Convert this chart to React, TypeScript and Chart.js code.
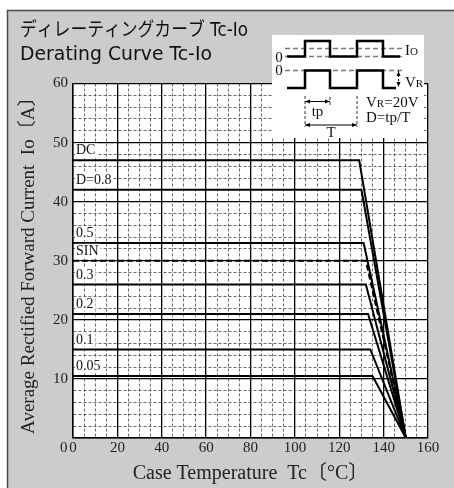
import React, { useEffect, useRef } from 'react';
import { Chart, registerables } from 'chart.js';

Chart.register(...registerables);

// ---- data ----
const curveNames = ['DC', 'D=0.8', '0.5', 'SIN', '0.3', '0.2', '0.1', '0.05'];
const flatCurrent = [47, 42, 33, 30, 26, 21, 15, 10.5];
const kneeTemp = [129, 130, 131, 132, 132, 133, 134, 135];
const zeroTemp = [150, 150, 150, 150, 150, 150, 150, 150];
const dashedCurve = [false, false, false, true, false, false, false, false];

const xTickLabels = [0, 20, 40, 60, 80, 100, 120, 140, 160];
const yTickLabels = [10, 20, 30, 40, 50, 60];

const titleLines = ['ディレーティングカーブ Tc-Io', 'Derating Curve Tc-Io'];
const xTitle = 'Case Temperature  Tc〔°C〕';
const yTitle = 'Average Rectified Forward Current  Io〔A〕';

const SERIF = '"Liberation Serif", "DejaVu Serif", "Noto Sans CJK JP", serif';
const SANS = '"DejaVu Sans", "Noto Sans CJK JP", sans-serif';

function line(ctx: CanvasRenderingContext2D, x1: number, y1: number, x2: number, y2: number) {
  ctx.beginPath();
  ctx.moveTo(x1, y1);
  ctx.lineTo(x2, y2);
  ctx.stroke();
}

function poly(ctx: CanvasRenderingContext2D, pts: number[][]) {
  ctx.beginPath();
  pts.forEach((p, i) => (i === 0 ? ctx.moveTo(p[0], p[1]) : ctx.lineTo(p[0], p[1])));
  ctx.stroke();
}

function arrowH(ctx: CanvasRenderingContext2D, x1: number, x2: number, y: number) {
  line(ctx, x1, y, x2, y);
  ctx.beginPath();
  ctx.moveTo(x1, y); ctx.lineTo(x1 + 5, y - 2); ctx.lineTo(x1 + 5, y + 2); ctx.closePath();
  ctx.moveTo(x2, y); ctx.lineTo(x2 - 5, y - 2); ctx.lineTo(x2 - 5, y + 2); ctx.closePath();
  ctx.fill();
}

function arrowV(ctx: CanvasRenderingContext2D, x: number, y1: number, y2: number) {
  ctx.save();
  ctx.setLineDash([2, 2]);
  line(ctx, x, y1, x, y2);
  ctx.restore();
  ctx.beginPath();
  ctx.moveTo(x, y1); ctx.lineTo(x - 2, y1 + 5); ctx.lineTo(x + 2, y1 + 5); ctx.closePath();
  ctx.moveTo(x, y2); ctx.lineTo(x - 2, y2 - 5); ctx.lineTo(x + 2, y2 - 5); ctx.closePath();
  ctx.fill();
}

function subText(ctx: CanvasRenderingContext2D, x: number, y: number, main: string, sub: string, rest: string) {
  ctx.textAlign = 'left';
  ctx.textBaseline = 'alphabetic';
  ctx.font = `15px ${SERIF}`;
  ctx.fillText(main, x, y);
  let cx = x + ctx.measureText(main).width;
  ctx.font = `11px ${SERIF}`;
  ctx.fillText(sub, cx, y);
  cx += ctx.measureText(sub).width;
  if (rest) {
    ctx.font = `15px ${SERIF}`;
    ctx.fillText(rest, cx, y);
  }
}

function drawInset(ctx: CanvasRenderingContext2D) {
  ctx.save();
  ctx.fillStyle = '#ffffff';
  ctx.fillRect(272, 35, 152, 103);

  ctx.strokeStyle = '#7a7a7a';
  ctx.lineWidth = 1.3;
  ctx.setLineDash([5, 3]);
  line(ctx, 285, 48.5, 402, 48.5);
  line(ctx, 285, 56.5, 402, 56.5);
  line(ctx, 285, 70.5, 402, 70.5);

  ctx.strokeStyle = '#333';
  ctx.lineWidth = 1;
  ctx.setLineDash([3, 2]);
  line(ctx, 305, 96, 305, 127);
  line(ctx, 357, 96, 357, 127);
  line(ctx, 330, 97, 330, 105);
  ctx.setLineDash([]);

  ctx.strokeStyle = '#000';
  ctx.lineWidth = 2.5;
  ctx.lineJoin = 'miter';
  poly(ctx, [[287, 56.5], [305, 56.5], [305, 41], [330, 41], [330, 56.5], [357, 56.5], [357, 41], [383, 41], [383, 56.5], [400, 56.5]]);
  poly(ctx, [[287, 88], [305, 88], [305, 70.5], [330, 70.5], [330, 88], [357, 88], [357, 70.5], [383, 70.5], [383, 88], [396, 88]]);

  ctx.lineWidth = 1;
  ctx.fillStyle = '#000';
  ctx.strokeStyle = '#000';
  arrowH(ctx, 305, 330, 101.5);
  arrowH(ctx, 305, 357, 125);
  arrowV(ctx, 398.5, 71, 87);

  ctx.fillStyle = '#111';
  ctx.font = `15px ${SERIF}`;
  ctx.textAlign = 'center';
  ctx.textBaseline = 'middle';
  ctx.fillText('0', 279, 58.5);
  ctx.fillText('0', 279, 71);
  ctx.fillText('tp', 317.5, 112);
  ctx.fillText('T', 331, 133.5);

  subText(ctx, 405, 55, 'I', 'O', '');
  subText(ctx, 405, 86.5, 'V', 'R', '');
  subText(ctx, 366, 107, 'V', 'R', '=20V');
  ctx.font = `15px ${SERIF}`;
  ctx.textAlign = 'left';
  ctx.fillText('D=tp/T', 366, 122);
  ctx.restore();
}

const decorPlugin = {
  id: 'decor',
  beforeDraw(chart: any) {
    const { ctx, width, height, chartArea: a } = chart;
    ctx.save();
    ctx.fillStyle = '#ffffff';
    ctx.fillRect(0, 0, width, height);
    ctx.fillStyle = '#cccccc';
    ctx.fillRect(7, 10, width - 7, height - 10);
    ctx.strokeStyle = '#4a4a4a';
    ctx.lineWidth = 1.5;
    ctx.beginPath();
    ctx.moveTo(7.5, height);
    ctx.lineTo(7.5, 10.5);
    ctx.lineTo(width, 10.5);
    ctx.stroke();
    ctx.fillStyle = '#ffffff';
    ctx.fillRect(a.left, a.top, a.right - a.left, a.bottom - a.top);

    ctx.fillStyle = '#111';
    ctx.font = `19px ${SANS}`;
    ctx.textAlign = 'left';
    ctx.textBaseline = 'alphabetic';
    ctx.fillText(titleLines[0], 20, 35.5, 228);
    ctx.fillText(titleLines[1], 20, 59.5, 192);
    ctx.restore();
  },
  afterDatasetsDraw(chart: any) {
    const { ctx, scales } = chart;
    const xs = scales.x;
    const ys = scales.y;
    ctx.save();
    ctx.font = `14px ${SERIF}`;
    ctx.textAlign = 'left';
    ctx.textBaseline = 'middle';
    curveNames.forEach((name, i) => {
      const x = xs.getPixelForValue(0) + 3;
      const y = ys.getPixelForValue(flatCurrent[i]) - 10;
      const w = ctx.measureText(name).width;
      ctx.fillStyle = '#ffffff';
      ctx.fillRect(x - 1, y - 7, w + 3, 14);
      ctx.fillStyle = '#111';
      ctx.fillText(name, x, y + 0.5);
    });
    ctx.restore();
    drawInset(ctx);
  },
  afterDraw(chart: any) {
    const { ctx, chartArea: a } = chart;
    ctx.save();
    ctx.fillStyle = '#222';
    ctx.font = `15px ${SERIF}`;
    ctx.textAlign = 'right';
    ctx.textBaseline = 'middle';
    ctx.fillText('0', a.left - 5.5, a.bottom + 10);
    ctx.restore();
  },
};

export default function App() {
  const ref = useRef<HTMLCanvasElement>(null);
  useEffect(() => {
    const datasets = curveNames.map((name, i) => ({
      label: name,
      data: [
        { x: 0, y: flatCurrent[i] },
        { x: kneeTemp[i], y: flatCurrent[i] },
        { x: zeroTemp[i], y: 0 },
      ],
      borderColor: '#000',
      borderWidth: 2,
      borderDash: dashedCurve[i] ? [6, 3] : [],
      pointRadius: 0,
      fill: false,
      tension: 0,
    }));

    const chart = new Chart(ref.current as HTMLCanvasElement, {
      type: 'line',
      data: { datasets },
      plugins: [decorPlugin],
      options: {
        responsive: false,
        animation: false,
        layout: { padding: { top: 83.5, right: 26, left: 0, bottom: 0 } },
        plugins: { legend: { display: false }, tooltip: { enabled: false }, title: { display: false } },
        scales: {
          x: {
            type: 'linear',
            min: 0,
            max: 160,
            afterFit: (s: any) => { s.height = 50; },
            ticks: {
              stepSize: 5,
              autoSkip: false,
              maxRotation: 0,
              padding: 1,
              color: '#222',
              font: { family: SERIF, size: 15 },
              callback: (v: any) => (xTickLabels.includes(Number(v)) ? String(v) : ''),
            },
            grid: {
              drawTicks: false,
              color: (c: any) => (c.tick && c.tick.value % 20 === 0 ? '#000' : '#444'),
              lineWidth: (c: any) => (c.tick && c.tick.value % 20 === 0 ? 1.3 : 0.8),
            },
            border: {
              display: true,
              color: '#000',
              width: 1.5,
              dash: (c: any) => (c.tick && c.tick.value % 20 !== 0 ? [3, 2] : []),
            },
            title: {
              display: true,
              text: xTitle,
              color: '#222',
              font: { family: SERIF, size: 20 },
              padding: { top: 0, bottom: 2 },
            },
          },
          y: {
            type: 'linear',
            min: 0,
            max: 60,
            afterFit: (s: any) => { s.width = 73; },
            ticks: {
              stepSize: 2,
              autoSkip: false,
              padding: 5,
              color: '#222',
              font: { family: SERIF, size: 15 },
              callback: (v: any) => (yTickLabels.includes(Number(v)) ? String(v) : ''),
            },
            grid: {
              drawTicks: false,
              color: (c: any) => (c.tick && c.tick.value % 10 === 0 ? '#000' : '#444'),
              lineWidth: (c: any) => (c.tick && c.tick.value % 10 === 0 ? 1.3 : 0.8),
            },
            border: {
              display: true,
              color: '#000',
              width: 1.5,
              dash: (c: any) => (c.tick && c.tick.value % 10 !== 0 ? [3, 2] : []),
            },
            title: {
              display: true,
              text: yTitle,
              color: '#222',
              font: { family: SERIF, size: 19 },
              padding: { top: 18, bottom: 0 },
            },
          },
        },
      },
    } as any);
    return () => chart.destroy();
  }, []);

  return (
    <div style={{ position: 'fixed', left: 0, top: 0, width: 454, height: 488 }}>
      <canvas ref={ref} width={454} height={488} style={{ display: 'block', width: 454, height: 488 }} />
    </div>
  );
}
